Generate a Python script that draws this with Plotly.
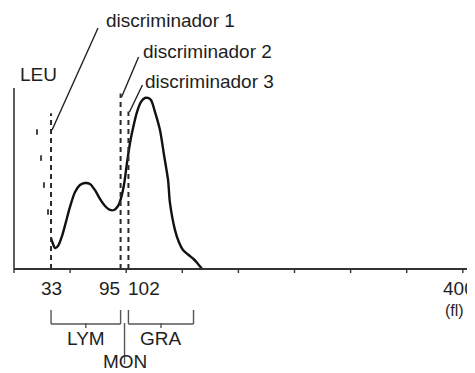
import plotly.graph_objects as go

# ---------------- data ----------------
volume_fl = [33.0, 34.8, 36.5, 39.2, 42.8, 46.3, 49.9, 54.4, 58.8, 63.3, 67.7, 72.2,
             76.6, 81.1, 85.6, 89.1, 92.7, 95.4, 98.0, 100.7, 103.4, 106.1, 109.6,
             113.2, 116.8, 119.4, 122.1, 125.7, 130.1, 133.7, 137.3, 139.0, 143.5,
             147.1, 150.6, 155.1, 159.5, 163.5, 167.6]
leu_count = [17.1, 13.8, 11.6, 12.7, 18.2, 26.0, 34.3, 42.5, 46.4, 47.5, 47.0, 43.6,
             38.7, 34.8, 32.6, 32.6, 34.8, 39.2, 46.4, 58.6, 69.6, 77.9, 86.7,
             92.3, 94.5, 94.5, 93.4, 86.7, 76.8, 63.0, 49.2, 36.5, 21.5,
             14.6, 10.5, 8.0, 5.8, 3.2, 0.0]

discriminators = [33, 95, 102]
disc_names = ["discriminador 1", "discriminador 2", "discriminador 3"]
disc_tops = [86, 97, 87]

tick_vals = [0, 50, 100, 150, 200, 250, 300, 350, 400]
label_vals = [33, 95, 102, 400]
label_texts = ["33", "95", "102", "400"]

populations = ["LYM", "MON", "GRA"]
pop_ranges = [(33, 95), (95, 102), (102, 160)]

artifact_x = [20.5, 24.1, 26.7, 30.3]
artifact_y = [75.7, 61.3, 46.4, 31.5]

# ---------------- layout constants ----------------
# the page body has an 8px margin, so the figure starts 8px in from the window corner
OFF = 8
W, H = 475 - OFF, 373 - OFF
X0PX, Y0PX = 14 - OFF, 269 - OFF
XS, YS = 1.122, 1.81
FONT = "Liberation Sans, Arial, sans-serif"
INK = "#1e1e1e"

def dx(px):
    return px / XS

def dy(px):
    return px / YS

fig = go.Figure()

# histogram curve
fig.add_trace(go.Scatter(x=volume_fl, y=leu_count, mode="lines",
                         line=dict(color="#111", width=2.4, shape="spline", smoothing=0.8),
                         hoverinfo="skip"))

# faint scan artifacts
fig.add_trace(go.Scatter(x=artifact_x, y=artifact_y, mode="markers",
                         marker=dict(symbol="line-ns", size=4, line=dict(color="#444", width=2)),
                         hoverinfo="skip"))

shapes = []
line_style = dict(color="#333", width=1.6)
# y axis
shapes.append(dict(type="line", xref="x", yref="y", x0=0, x1=0, y0=0, y1=100, line=line_style))
# x axis
shapes.append(dict(type="line", xref="x", yref="y", x0=0, x1=dx(W - X0PX), y0=0, y1=0,
                   line=dict(color="#333", width=1.8)))
for t in tick_vals:
    shapes.append(dict(type="line", xref="x", yref="y", x0=t, x1=t, y0=0, y1=-dy(4),
                       line=dict(color="#333", width=1.4)))

# discriminator dashed lines and leaders
leader_base = [76.8, 95, 86.7]
leader_vec = [(47, 102), (18, 40), (14, 27)]
text_off = [(6, 7), (2, 6), (1, 4)]
annotations = []
for d, top, name, base, (vx, vy), (tx, ty) in zip(discriminators, disc_tops, disc_names,
                                                   leader_base, leader_vec, text_off):
    shapes.append(dict(type="line", xref="x", yref="y", x0=d, x1=d, y0=0, y1=top,
                       line=dict(color="#2a2a2a", width=2, dash="5px,4px")))
    x1 = d + dx(vx)
    y1 = base + dy(vy)
    shapes.append(dict(type="line", xref="x", yref="y", x0=d + dx(1), y0=base, x1=x1, y1=y1,
                       line=dict(color="#222", width=1.4)))
    annotations.append(dict(x=x1, y=y1, xref="x", yref="y", text=name, showarrow=False,
                            xanchor="left", yanchor="middle", xshift=tx, yshift=ty,
                            font=dict(family=FONT, size=19, color=INK)))

# axis labels
anchors = {"33": "center", "95": "right", "102": "left", "400": "center"}
shifts = {"33": 0, "95": 1, "102": -2, "400": -4}
for v, t in zip(label_vals, label_texts):
    annotations.append(dict(x=v, y=0, xref="x", yref="y", text=t, showarrow=False,
                            xanchor=anchors[t], yanchor="middle", xshift=shifts[t], yshift=-19,
                            font=dict(family=FONT, size=19, color=INK)))
annotations.append(dict(x=400, y=0, xref="x", yref="y", text="(fl)", showarrow=False,
                        xanchor="left", yanchor="middle", xshift=-20, yshift=-41,
                        font=dict(family=FONT, size=16, color=INK)))
annotations.append(dict(x=0, y=100, xref="x", yref="y", text="LEU", showarrow=False,
                        xanchor="left", yanchor="middle", xshift=4, yshift=14,
                        font=dict(family=FONT, size=19, color=INK)))

# population brackets
b_top, b_bot = -dy(41), -dy(55)
br_style = dict(color="#555", width=1.4)
for name, (a, b) in zip(populations, pop_ranges):
    mid = (a + b) / 2
    if name == "MON":
        shapes.append(dict(type="line", xref="x", yref="y", x0=mid, x1=mid,
                           y0=b_bot + dy(1), y1=b_bot - dy(40), line=br_style))
        annotations.append(dict(x=mid, y=0, xref="x", yref="y", text=name, showarrow=False,
                                xanchor="center", yanchor="middle", yshift=-92,
                                font=dict(family=FONT, size=19, color=INK)))
        continue
    shapes.append(dict(type="line", xref="x", yref="y", x0=a, x1=a, y0=b_top, y1=b_bot, line=br_style))
    shapes.append(dict(type="line", xref="x", yref="y", x0=b, x1=b, y0=b_top, y1=b_bot, line=br_style))
    shapes.append(dict(type="line", xref="x", yref="y", x0=a, x1=b, y0=b_bot, y1=b_bot, line=br_style))
    shapes.append(dict(type="line", xref="x", yref="y", x0=mid, x1=mid, y0=b_bot + dy(1),
                       y1=b_bot - dy(4), line=br_style))
    annotations.append(dict(x=mid, y=0, xref="x", yref="y", text=name, showarrow=False,
                            xanchor="center", yanchor="middle", yshift=-69,
                            font=dict(family=FONT, size=19, color=INK)))

fig.update_layout(
    width=W, height=H, margin=dict(l=0, r=0, t=0, b=0, pad=0),
    paper_bgcolor="white", plot_bgcolor="white", showlegend=False,
    xaxis=dict(range=[-dx(X0PX), dx(W - X0PX)], visible=False, fixedrange=True),
    yaxis=dict(range=[-dy(H - Y0PX), dy(Y0PX)], visible=False, fixedrange=True),
    shapes=shapes, annotations=annotations,
)

fig.write_html("out.html")
